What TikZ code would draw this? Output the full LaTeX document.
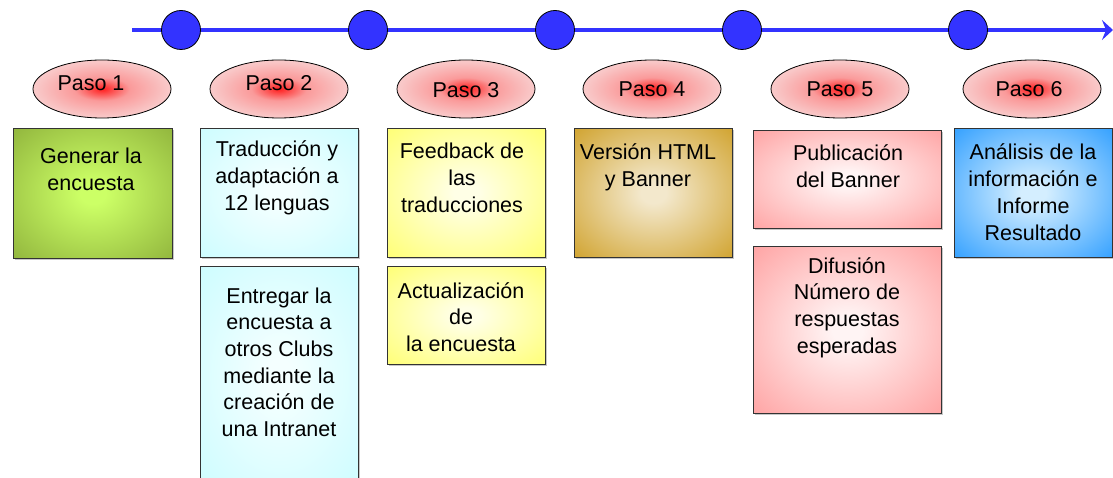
\documentclass[tikz,border=0pt]{standalone}
\usepackage{fontspec}
\setmainfont{Liberation Sans}
\usetikzlibrary{shapes.geometric,shadows,arrows.meta}
\definecolor{tl}{HTML}{3333FF}
\definecolor{grnO}{HTML}{8AAC38}\definecolor{grnI}{HTML}{CCFF66}
\definecolor{cyaO}{HTML}{C8FCFF}\definecolor{cyaI}{HTML}{F4FFFF}
\definecolor{yelO}{HTML}{FFFF66}\definecolor{yelI}{HTML}{FFFFE6}
\definecolor{brnO}{HTML}{CC9A1A}\definecolor{brnI}{HTML}{F3E8CC}
\definecolor{pnkO}{HTML}{FF9999}\definecolor{pnkI}{HTML}{FFF4F4}
\definecolor{bluO}{HTML}{1E96FF}\definecolor{bluI}{HTML}{D4EEFF}
\definecolor{elO}{HTML}{F9C8C8}\definecolor{elM}{HTML}{FA9A9A}\definecolor{elI}{HTML}{FF2A2A}
\newcommand\mkboxshade[3]{\pgfdeclareradialshading{#1}{\pgfpointorigin}{color(0bp)=(#2); color(4bp)=(#2); color(40bp)=(#3); color(100bp)=(#3)}}
\mkboxshade{shgrn}{grnI}{grnO}
\mkboxshade{shcya}{cyaI}{cyaO}
\mkboxshade{shyel}{yelI}{yelO}
\mkboxshade{shbrn}{brnI}{brnO}
\mkboxshade{shpnk}{pnkI}{pnkO}
\mkboxshade{shblu}{bluI}{bluO}
\pgfdeclareradialshading{shel}{\pgfpointorigin}{color(0bp)=(elI); color(1bp)=(elI); color(10bp)=(elM); color(24bp)=(elO); color(100bp)=(elO)}
\begin{document}
\begin{tikzpicture}[x=1pt,y=-1pt,
  boxnode/.style={rectangle, draw=black!80, line width=0.9pt, inner sep=0pt, anchor=north west,
    drop shadow={shadow xshift=2pt, shadow yshift=-2pt, fill=black, opacity=0.22}},
  txt/.style={align=center, inner sep=0pt, anchor=base, font=\fontsize{21.5}{26.7}\selectfont},
  stepell/.style={ellipse, draw=black, line width=0.8pt, shading=shel, minimum width=138, minimum height=58, inner sep=0pt},
  dot/.style={circle, fill=tl, draw=black, line width=0.8pt, minimum size=39, inner sep=0pt}]
\useasboundingbox (0,0) rectangle (1113,478);
% timeline
\coordinate (ts) at (132,30);
\coordinate (te) at (1113,30);
\draw[tl, line width=4pt, -{Stealth[length=11pt,width=20pt,inset=4pt]}] (ts) -- (te);
\foreach \i/\x in {1/181,2/368,3/555,4/742,5/968}
  \node[dot] (c\i) at (\x,30) {};
% ellipses
\foreach \i/\x in {1/102,2/279,3/466,4/652,5/840,6/1032}
  \node[stepell] (e\i) at (\x,89) {};
\node[txt] (l1) at (91,90.7) {Paso 1};
\node[txt] (l2) at (279,90.7) {Paso 2};
\node[txt] (l3) at (466,98) {Paso 3};
\node[txt] (l4) at (652,97) {Paso 4};
\node[txt] (l5) at (840,97) {Paso 5};
\node[txt] (l6) at (1029,97) {Paso 6};
% boxes
\node[boxnode, shading=shgrn, minimum width=159, minimum height=130] (b1) at (13,128) {};
\node[boxnode, shading=shcya, minimum width=158, minimum height=129] (b2) at (200,128) {};
\node[boxnode, shading=shcya, minimum width=158, minimum height=220] (b2b) at (200,266) {};
\node[boxnode, shading=shyel, minimum width=158, minimum height=129] (b3) at (387,128) {};
\node[boxnode, shading=shyel, minimum width=158, minimum height=98] (b3b) at (387,266) {};
\node[boxnode, shading=shbrn, minimum width=158, minimum height=129] (b4) at (574,128) {};
\node[boxnode, shading=shpnk, minimum width=188, minimum height=98] (b5) at (753,130) {};
\node[boxnode, shading=shpnk, minimum width=188, minimum height=167] (b5b) at (753,246) {};
\node[boxnode, shading=shblu, minimum width=158, minimum height=129] (b6) at (954,128) {};
% texts (anchor = baseline of the last line)
\node[txt] (t1) at (91,190.7) {Generar la\\encuesta};
\node[txt] (t2) at (277,210.4) {Traducción y\\adaptación a\\12 lenguas};
\node[txt] (t2b) at (279,436.5) {Entregar la\\encuesta a\\otros Clubs\\mediante la\\creación de\\una Intranet};
\node[txt] (t3) at (462,212.4) {Feedback de\\las\\traducciones};
\node[txt] (t3b) at (461,351.4) {Actualización\\de\\la encuesta};
\node[txt] (t4) at (648,186.7) {Versión HTML\\y Banner};
\node[txt] (t5) at (848,187.7) {Publicación\\del Banner};
\node[txt] (t5b) at (847,353.1) {Difusión\\Número de\\respuestas\\esperadas};
\node[txt] (t6) at (1033,240.1) {Análisis de la\\información e\\Informe\\Resultado};
\end{tikzpicture}
\end{document}
